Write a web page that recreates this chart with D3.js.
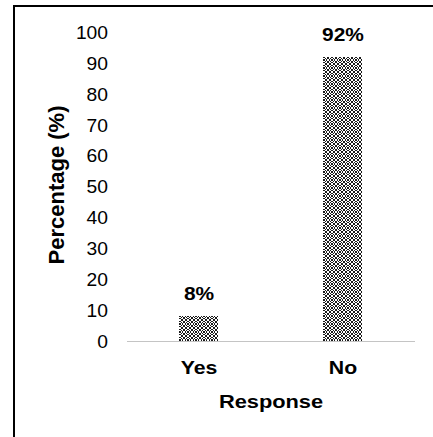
<!DOCTYPE html>
<html>
<head>
<meta charset="utf-8">
<script src="https://cdn.jsdelivr.net/npm/d3@7"></script>
<style>
  html, body { margin: 0; padding: 0; background: #fff; }
  svg { display: block; }
  text { font-family: "Liberation Sans", Arial, sans-serif; fill: #000; }
</style>
</head>
<body>
<svg id="chart" width="433" height="437" shape-rendering="crispEdges"></svg>
<script>
// Survey responses
const categories = ["Yes", "No"];
const percentages = [8, 92];
const valueLabels = ["8%", "92%"];
const yTicks = [0, 10, 20, 30, 40, 50, 60, 70, 80, 90, 100];

const svg = d3.select("#chart");
const W = 433, H = 437;
const plot = { left: 127, right: 415, top: 32, bottom: 341 };

// frame (top and left edges of the figure box)
svg.append("path")
  .attr("d", `M14,${H + 5} L14,6 L${W + 5},6`)
  .attr("fill", "none").attr("stroke", "#000").attr("stroke-width", 2);

// ring-lattice fill used by the bars (8x8 pixel tile)
const tile = [
  ".XX..XX.",
  "X..XX..X",
  "X.X..X.X",
  ".X.XX.X.",
  ".X.XX.X.",
  "X.X..X.X",
  "X..XX..X",
  ".XX..XX."
];
const defs = svg.append("defs");
const pat = defs.append("pattern")
  .attr("id", "rings").attr("patternUnits", "userSpaceOnUse")
  .attr("width", 8).attr("height", 8);
pat.append("rect").attr("width", 8).attr("height", 8).attr("fill", "#fff");
tile.forEach((row, r) => {
  row.split("").forEach((c, k) => {
    if (c === "X") pat.append("rect")
      .attr("x", k).attr("y", r).attr("width", 1).attr("height", 1)
      .attr("fill", "#1a1a1a");
  });
});

const x = d3.scaleBand()
  .domain(categories)
  .range([plot.left, plot.right])
  .paddingInner(0.729)
  .paddingOuter(0.729 / 2);

const y = d3.scaleLinear().domain([0, 100]).range([plot.bottom, plot.top]);

// y axis: labels only
const yAxis = svg.append("g")
  .attr("transform", "translate(108,0)")
  .call(d3.axisLeft(y).tickValues(yTicks).tickSize(0).tickPadding(0));
yAxis.select(".domain").remove();
yAxis.selectAll("text")
  .attr("font-family", "Liberation Sans, Arial, sans-serif")
  .attr("font-size", 17.5)
  .attr("fill", "#000")
  .attr("dy", "0.36em")
  .attr("transform", "scale(1.1,1)");

// bars
svg.append("g").selectAll("rect")
  .data(categories)
  .join("rect")
  .attr("x", d => Math.round(x(d)))
  .attr("width", Math.round(x.bandwidth()))
  .attr("y", (d, i) => Math.round(y(percentages[i])))
  .attr("height", (d, i) => Math.round(y(0)) - Math.round(y(percentages[i])))
  .attr("fill", "url(#rings)");

// baseline
svg.append("line")
  .attr("x1", plot.left).attr("x2", plot.right)
  .attr("y1", y(0) + 0.5).attr("y2", y(0) + 0.5)
  .attr("stroke", "#c4c4c4").attr("stroke-width", 1);

// value labels
svg.append("g").selectAll("text")
  .data(categories)
  .join("text")
  .attr("transform", (d, i) =>
    `translate(${x(d) + x.bandwidth() / 2},${y(percentages[i]) - 16}) scale(1.1,1)`)
  .attr("text-anchor", "middle")
  .attr("font-weight", "bold")
  .attr("font-size", 19)
  .text((d, i) => valueLabels[i]);

// category labels
svg.append("g").selectAll("text")
  .data(categories)
  .join("text")
  .attr("transform", d => `translate(${x(d) + x.bandwidth() / 2},374) scale(1.15,1)`)
  .attr("text-anchor", "middle")
  .attr("font-weight", "bold")
  .attr("font-size", 18.5)
  .text(d => d);

// axis titles
svg.append("text")
  .attr("transform", "translate(271,408) scale(1.18,1)")
  .attr("text-anchor", "middle")
  .attr("font-weight", "bold")
  .attr("font-size", 18.5)
  .text("Response");

svg.append("text")
  .attr("transform", "translate(64,185) rotate(-90)")
  .attr("text-anchor", "middle")
  .attr("font-weight", "bold")
  .attr("font-size", 22)
  .text("Percentage (%)");
</script>
</body>
</html>
